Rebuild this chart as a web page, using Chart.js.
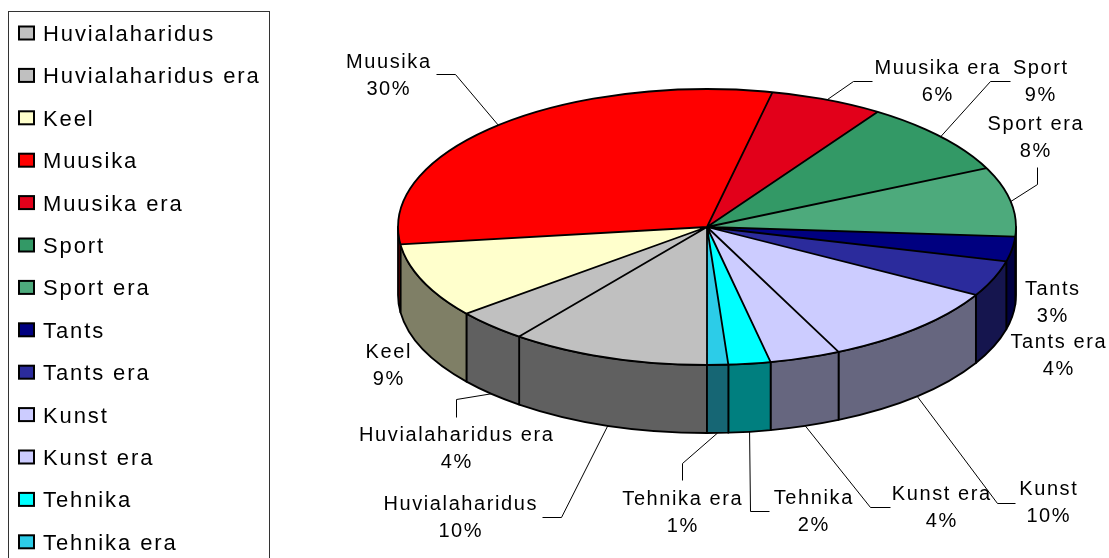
<!DOCTYPE html>
<html>
<head>
<meta charset="utf-8">
<script src="https://cdn.jsdelivr.net/npm/chart.js@4"></script>
<style>
  html, body { margin: 0; padding: 0; background: #fff; overflow: hidden; }
  canvas { display: block; }
</style>
</head>
<body>
<canvas id="pie" width="1109" height="558"></canvas>
<script>
// andmed
const categories = ['Huvialaharidus', 'Huvialaharidus era', 'Keel', 'Muusika', 'Muusika era', 'Sport', 'Sport era',
  'Tants', 'Tants era', 'Kunst', 'Kunst era', 'Tehnika', 'Tehnika era'];
const shares = [10.4, 3.8, 8.8, 30.4, 5.9, 8.7, 8.1, 2.9, 4.2, 9.8, 3.7, 2.2, 1.1];
const colors = ['#C0C0C0', '#C0C0C0', '#FFFFCC', '#FF0000', '#E2001A', '#339966', '#4DAA7C',
  '#000080', '#2B2B9C', '#CCCCFF', '#CCCCFF', '#00FFFF', '#2CCCE8'];

// 3D ellipsi paigutus (ekraanil)
const P = { cx: 707, cy: 227, rx: 309, ry: 138, depth: 68 };
const FONT = '"Liberation Sans", Arial, sans-serif';

// sildid: [tekst x, baasjoon, nurk x, nurk y, ots x, ots y]
const labelLayout = [
  [460, 510, 561, 517, 542, 517],
  [456, 441, 456, 399, 456, 417],
  [388, 358],
  [388, 68, 455, 74, 436, 74],
  [937, 74, 853, 81, 872, 81],
  [1040, 74, 990, 81, 1010, 81],
  [1035, 130, 1037, 184, 1037, 167],
  [1052, 295],
  [1058, 348],
  [1048, 495, 997, 503, 1015, 503],
  [941, 500, 870, 507, 890, 507],
  [813, 504, 750, 511, 769, 511],
  [682, 505, 682, 463, 682, 480]
];

const shade = (hex) => {
  const n = parseInt(hex.slice(1), 16);
  const r = (n >> 16) >> 1, g = ((n >> 8) & 255) >> 1, b = (n & 255) >> 1;
  return `rgb(${r}, ${g}, ${b})`;
};

// nähtavad esiosad (sin > 0)
const frontParts = (s, e) => {
  const out = [];
  for (let k = -1; k <= 2; k++) {
    const lo = Math.max(s, 2 * Math.PI * k);
    const hi = Math.min(e, 2 * Math.PI * k + Math.PI);
    if (hi > lo) out.push([lo, hi]);
  }
  return out;
};

const pie3d = {
  id: 'pie3d',
  beforeDatasetsDraw(chart) {
    const ctx = chart.ctx;
    const arcs = chart.getDatasetMeta(0).data;
    ctx.save();
    ctx.lineWidth = 1.8;
    ctx.strokeStyle = '#000';
    ctx.lineJoin = 'round';
    arcs.forEach((arc, i) => {
      frontParts(arc.startAngle, arc.endAngle).forEach(([a, b]) => {
        ctx.beginPath();
        ctx.ellipse(P.cx, P.cy, P.rx, P.ry, 0, a, b);
        ctx.ellipse(P.cx, P.cy + P.depth, P.rx, P.ry, 0, b, a, true);
        ctx.closePath();
        ctx.fillStyle = shade(colors[i]);
        ctx.fill();
        ctx.stroke();
      });
    });
    ctx.restore();

    // ring -> ellips
    const a0 = arcs[0];
    ctx.save();
    ctx.translate(P.cx, P.cy);
    ctx.scale(P.rx / a0.outerRadius, P.ry / a0.outerRadius);
    ctx.translate(-a0.x, -a0.y);
  },
  afterDatasetsDraw(chart) {
    const ctx = chart.ctx;
    ctx.restore();
    const arcs = chart.getDatasetMeta(0).data;
    ctx.save();
    ctx.lineWidth = 1.8;
    ctx.strokeStyle = '#000';
    ctx.beginPath();
    ctx.ellipse(P.cx, P.cy, P.rx, P.ry, 0, 0, Math.PI * 2);
    ctx.stroke();
    ctx.beginPath();
    arcs.forEach((arc) => {
      ctx.moveTo(P.cx, P.cy);
      ctx.lineTo(P.cx + P.rx * Math.cos(arc.startAngle), P.cy + P.ry * Math.sin(arc.startAngle));
    });
    ctx.stroke();
    ctx.restore();
  },
  afterDraw(chart) {
    const ctx = chart.ctx;
    const arcs = chart.getDatasetMeta(0).data;
    ctx.save();

    // legend
    ctx.strokeStyle = '#333';
    ctx.lineWidth = 1;
    ctx.strokeRect(8.5, 11.5, 261, 620);
    ctx.font = '22px ' + FONT;
    ctx.letterSpacing = '1.9px';
    ctx.textAlign = 'left';
    ctx.textBaseline = 'alphabetic';
    categories.forEach((name, i) => {
      const yc = 33 + i * 42.4;
      ctx.fillStyle = colors[i];
      ctx.fillRect(19, yc - 6.5, 15, 13);
      ctx.lineWidth = 2;
      ctx.strokeStyle = '#000';
      ctx.strokeRect(19, yc - 6.5, 15, 13);
      ctx.fillStyle = '#000';
      ctx.fillText(name, 43, yc + 8);
    });

    // andmesildid ja juhtjooned
    ctx.font = '20px ' + FONT;
    ctx.letterSpacing = '1.6px';
    ctx.textAlign = 'center';
    ctx.lineWidth = 1;
    arcs.forEach((arc, i) => {
      const L = labelLayout[i];
      ctx.fillStyle = '#000';
      ctx.fillText(categories[i], L[0] + 0.8, L[1]);
      ctx.fillText(Math.round(shares[i]) + '%', L[0] + 0.8, L[1] + 26.5);
      if (L.length > 2) {
        const m = (arc.startAngle + arc.endAngle) / 2;
        const ax = P.cx + P.rx * Math.cos(m);
        const ay = P.cy + P.ry * Math.sin(m) + (Math.sin(m) > 0 ? P.depth : 0);
        ctx.strokeStyle = '#000';
        ctx.beginPath();
        ctx.moveTo(ax, ay);
        ctx.lineTo(L[2] + 0.5, L[3] + 0.5);
        ctx.lineTo(L[4] + 0.5, L[5] + 0.5);
        ctx.stroke();
      }
    });
    ctx.restore();
  }
};

new Chart(document.getElementById('pie'), {
  type: 'pie',
  data: {
    labels: categories,
    datasets: [{
      data: shares,
      backgroundColor: colors,
      borderWidth: 0
    }]
  },
  options: {
    responsive: false,
    animation: false,
    events: [],
    rotation: 180,
    layout: { padding: { left: 305, top: 10, bottom: 10 } },
    plugins: {
      legend: { display: false },
      tooltip: { enabled: false }
    }
  },
  plugins: [pie3d]
});
</script>
</body>
</html>
